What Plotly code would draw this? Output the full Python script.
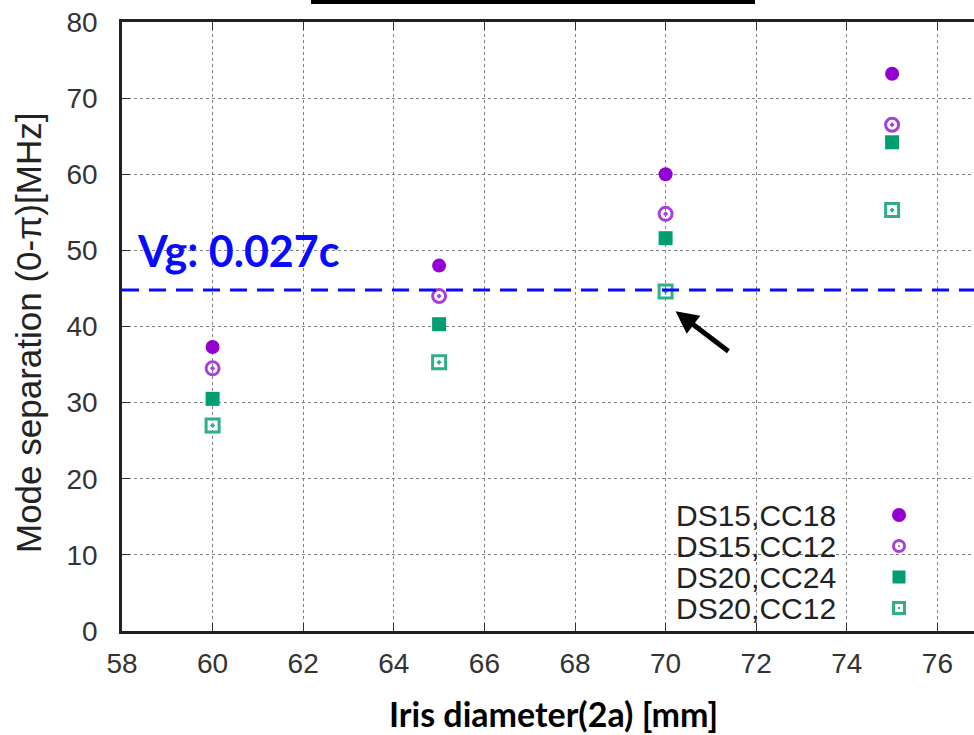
import plotly.graph_objects as go

# Iris diameter sweep [mm]
iris_diameter = [60, 65, 70, 75]

# Mode separation (0-pi) [MHz] for each cell configuration
ds15_cc18 = [37.3, 48.0, 60.0, 73.2]
ds15_cc12 = [34.5, 44.0, 54.8, 66.5]
ds20_cc24 = [30.5, 40.3, 51.6, 64.2]
ds20_cc12 = [27.0, 35.3, 44.6, 55.3]

series_names = ["DS15,CC18", "DS15,CC12", "DS20,CC24", "DS20,CC12"]

# Target group velocity level
vg_level = 44.8
vg_label = "Vg: 0.027c"

x_ticks = [58, 60, 62, 64, 66, 68, 70, 72, 74, 76]
y_ticks = [0, 10, 20, 30, 40, 50, 60, 70, 80]

PURPLE = "#9400d3"
PURPLE_OPEN = "#a640d8"
GREEN = "#009e73"
GREEN_OPEN = "#2fae8c"

fig = go.Figure()

styles = [
    dict(symbol="circle", size=14, color=PURPLE, line=dict(width=0)),
    dict(symbol="circle-open-dot", size=13, color=PURPLE_OPEN, line=dict(width=3)),
    dict(symbol="square", size=14, color=GREEN, line=dict(width=0)),
    dict(symbol="square-open-dot", size=13, color=GREEN_OPEN, line=dict(width=3)),
]
for name, ys, st in zip(series_names, [ds15_cc18, ds15_cc12, ds20_cc24, ds20_cc12], styles):
    fig.add_trace(go.Scatter(
        x=iris_diameter, y=ys, mode="markers", name=name,
        marker=st, showlegend=False, cliponaxis=False,
    ))

# Dashed reference line for the group velocity
fig.add_shape(type="line", xref="paper", yref="y", x0=0, x1=1, y0=vg_level, y1=vg_level,
              line=dict(color="#0a0aff", width=3, dash="17px,10px"), layer="above")

fig.add_annotation(x=58.28, y=vg_level + 5.2, xref="x", yref="y", text="<b>" + vg_label + "</b>",
                   showarrow=False, xanchor="left", yanchor="middle",
                   font=dict(family="Lato", size=43, color="#0a0aff"))

# Arrow pointing at the DS20,CC12 point at 70 mm
fig.add_annotation(x=70.22, y=42.0, xref="x", yref="y", ax=71.42, ay=36.6, axref="x", ayref="y",
                   text="", showarrow=True, arrowhead=2, arrowsize=0.9, arrowwidth=5,
                   arrowcolor="black")

# Legend: right-aligned labels followed by the marker key
leg_rows_y = [515, 546, 577, 608]
plot_l, plot_t, plot_b, plot_r = 122, 22, 631, 974
pw, ph = plot_r - plot_l, plot_b - plot_t


def px_x(px):
    return (px - plot_l) / pw


def px_y(py):
    return (plot_b - py) / ph


key_x = px_x(899)
for name, py, st in zip(series_names, leg_rows_y, styles):
    fig.add_annotation(x=px_x(838), y=px_y(py), xref="paper", yref="paper", text=name,
                       showarrow=False, xanchor="right", yanchor="middle",
                       font=dict(family="Liberation Sans", size=30, color="#222"))
    yk = px_y(py)
    if st["symbol"] == "circle":
        fig.add_shape(type="circle", xref="paper", yref="paper", xsizemode="pixel", ysizemode="pixel",
                      xanchor=key_x, yanchor=yk, x0=-7, x1=7, y0=-7, y1=7,
                      fillcolor=PURPLE, line=dict(width=0))
    elif st["symbol"] == "circle-open-dot":
        fig.add_shape(type="circle", xref="paper", yref="paper", xsizemode="pixel", ysizemode="pixel",
                      xanchor=key_x, yanchor=yk, x0=-5.5, x1=5.5, y0=-5.5, y1=5.5,
                      fillcolor="white", line=dict(width=3, color=PURPLE_OPEN))
        fig.add_shape(type="circle", xref="paper", yref="paper", xsizemode="pixel", ysizemode="pixel",
                      xanchor=key_x, yanchor=yk, x0=-1, x1=1, y0=-1, y1=1,
                      fillcolor=PURPLE_OPEN, line=dict(width=0))
    elif st["symbol"] == "square":
        fig.add_shape(type="rect", xref="paper", yref="paper", xsizemode="pixel", ysizemode="pixel",
                      xanchor=key_x, yanchor=yk, x0=-6.5, x1=6.5, y0=-6.5, y1=6.5,
                      fillcolor=GREEN, line=dict(width=0))
    else:
        fig.add_shape(type="rect", xref="paper", yref="paper", xsizemode="pixel", ysizemode="pixel",
                      xanchor=key_x, yanchor=yk, x0=-5.5, x1=5.5, y0=-5.5, y1=5.5,
                      fillcolor="white", line=dict(width=3, color=GREEN_OPEN))
        fig.add_shape(type="rect", xref="paper", yref="paper", xsizemode="pixel", ysizemode="pixel",
                      xanchor=key_x, yanchor=yk, x0=-1, x1=1, y0=-1, y1=1,
                      fillcolor=GREEN_OPEN, line=dict(width=0))

# Underline of the heading above the plot
fig.add_shape(type="line", xref="paper", yref="paper", x0=px_x(311), x1=px_x(755),
              y0=px_y(2), y1=px_y(2), line=dict(color="black", width=4))

# Axis titles
fig.add_annotation(x=px_x(553), y=px_y(713), xref="paper", yref="paper",
                   text="<b>Iris diameter(2a) [mm]</b>", showarrow=False,
                   xanchor="center", yanchor="middle",
                   font=dict(family="Lato", size=34, color="black"))
fig.add_annotation(x=px_x(29), y=px_y(333), xref="paper", yref="paper",
                   text="Mode separation (0-\u03c0)[MHz]", showarrow=False, textangle=-90,
                   xanchor="center", yanchor="middle",
                   font=dict(family="Liberation Sans", size=35, color="#222"))

axis_font = dict(family="Liberation Sans", size=28, color="#333")
grid = dict(showgrid=True, gridcolor="#808080", griddash="dot", gridwidth=1)

fig.update_xaxes(range=[58, 58 + (plot_r - plot_l) / 45.3], tickvals=x_ticks, ticks="inside",
                 ticklen=8, tickwidth=1, tickcolor="#333", mirror="allticks",
                 showline=True, linecolor="#222", linewidth=2.5, zeroline=False,
                 tickfont=axis_font, ticklabelstandoff=6, **grid)
fig.update_yaxes(range=[0, 80], tickvals=y_ticks, ticks="inside", ticklen=8, tickwidth=1,
                 tickcolor="#333", showline=True, linecolor="#222", linewidth=2.5,
                 zeroline=False, tickfont=axis_font, ticklabelstandoff=16, **grid)

fig.update_layout(
    width=974, height=735,
    margin=dict(l=plot_l, r=0, t=plot_t, b=735 - plot_b),
    plot_bgcolor="white", paper_bgcolor="white",
    showlegend=False,
)

fig.write_html("out.html")
